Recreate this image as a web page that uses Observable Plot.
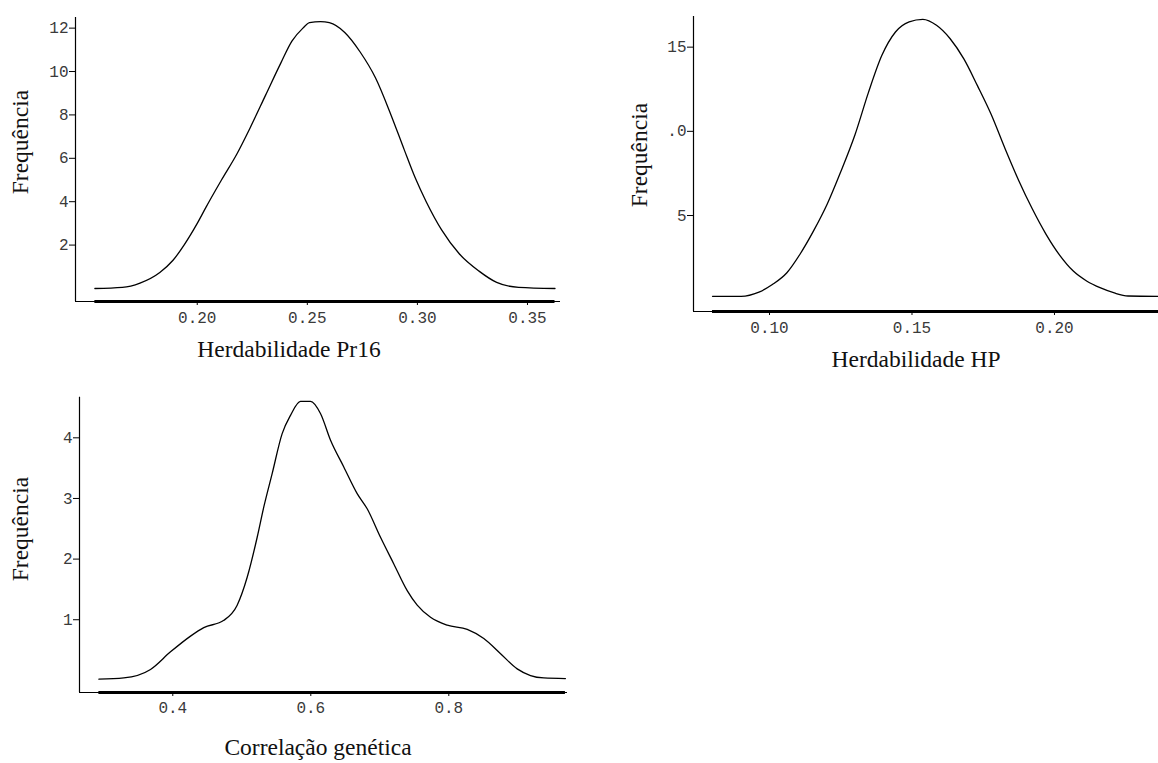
<!DOCTYPE html>
<html>
<head>
<meta charset="utf-8">
<script src="https://cdn.jsdelivr.net/npm/d3@7"></script>
<script src="https://cdn.jsdelivr.net/npm/@observablehq/plot@0.6"></script>
<style>
  html, body { margin: 0; padding: 0; background: #fff; }
  #wrap { position: relative; width: 1158px; height: 763px; overflow: hidden; background: #fff; }
  #wrap svg { position: absolute; }
  .t { position: absolute; font-family: "Liberation Serif", "DejaVu Serif", serif; font-size: 23.5px;
       line-height: 1; color: #111; white-space: nowrap; transform: translate(-50%, -50%); }
  .ty { transform: translate(-50%, -50%) rotate(-90deg); }
</style>
</head>
<body>
<div id="wrap"></div>
<script>
// ---- Panel 1: Herdabilidade Pr16 ----
const pr16X = [0.1535, 0.166, 0.174, 0.183, 0.189, 0.194, 0.200, 0.204, 0.211, 0.218, 0.224, 0.231, 0.238, 0.243, 0.248, 0.251, 0.256, 0.260, 0.267, 0.274, 0.281, 0.288, 0.294, 0.299, 0.304, 0.311, 0.319, 0.328, 0.336, 0.346, 0.3625];
const pr16Y = [0, 0.05, 0.25, 0.74, 1.3, 2.0, 3.0, 3.75, 5.0, 6.2, 7.4, 8.9, 10.4, 11.4, 12.0, 12.25, 12.3, 12.25, 11.8, 10.9, 9.7, 8.0, 6.4, 5.1, 4.0, 2.7, 1.6, 0.8, 0.28, 0.05, 0];
const pr16XTicks = [0.20, 0.25, 0.30, 0.35];
const pr16YTicks = [2, 4, 6, 8, 10, 12];

// ---- Panel 2: Herdabilidade HP ----
const hpX = [0.0800, 0.090, 0.0963, 0.101, 0.1061, 0.1107, 0.1155, 0.1203, 0.125, 0.130, 0.1347, 0.1394, 0.1442, 0.149, 0.1538, 0.1586, 0.1634, 0.1682, 0.173, 0.1778, 0.1826, 0.1874, 0.1922, 0.197, 0.2018, 0.2066, 0.2114, 0.2162, 0.221, 0.2258, 0.2365];
const hpY = [0.2, 0.2, 0.45, 0.9, 1.6, 2.7, 4.1, 5.7, 7.6, 9.8, 12.3, 14.5, 15.9, 16.5, 16.65, 16.3, 15.5, 14.3, 12.7, 11.0, 9.0, 7.1, 5.4, 3.9, 2.65, 1.7, 1.1, 0.7, 0.4, 0.22, 0.2];
const hpXTicks = [0.10, 0.15, 0.20];
const hpYTicks = [5, 10, 15];
const hpYTickLabels = ["5", ".0", "15"];

// ---- Panel 3: Correlação genética ----
const corX = [0.2929, 0.329, 0.3677, 0.3967, 0.4257, 0.4449, 0.474, 0.4933, 0.5078, 0.5223, 0.5319, 0.544, 0.5585, 0.5706, 0.585, 0.5996, 0.614, 0.6286, 0.6478, 0.6672, 0.6817, 0.701, 0.7203, 0.7397, 0.7542, 0.7735, 0.7977, 0.8267, 0.8507, 0.875, 0.8991, 0.9184, 0.9377, 0.969];
const corY = [0.02, 0.04, 0.18, 0.47, 0.73, 0.87, 0.99, 1.24, 1.70, 2.36, 2.86, 3.41, 4.07, 4.37, 4.60, 4.60, 4.40, 3.96, 3.52, 3.08, 2.83, 2.36, 1.92, 1.48, 1.24, 1.04, 0.91, 0.84, 0.69, 0.44, 0.19, 0.08, 0.04, 0.03];
const corXTicks = [0.4, 0.6, 0.8];
const corYTicks = [1, 2, 3, 4];

const panelTitlesX = ["Herdabilidade Pr16", "Herdabilidade HP", "Correlação genética"];
const yTitle = "Frequência";

const wrap = document.getElementById("wrap");

function panel(cfg) {
  const data = cfg.xs.map((x, i) => ({x, y: cfg.ys[i]}));
  const y0 = cfg.yDomain[0], x0 = cfg.xDomain[0];
  const svg = Plot.plot({
    width: cfg.width, height: cfg.height,
    marginLeft: cfg.ml, marginRight: cfg.mr, marginTop: cfg.mt, marginBottom: cfg.mb,
    style: {fontFamily: "'Liberation Mono', 'DejaVu Sans Mono', monospace", fontSize: "16px", background: "transparent", overflow: "visible", color: "#333"},
    x: {domain: cfg.xDomain},
    y: {domain: cfg.yDomain},
    marks: [
      Plot.ruleX([x0], {stroke: "#000", strokeWidth: 1.2}),
      Plot.ruleY([y0], {stroke: "#000", strokeWidth: 1.2}),
      Plot.ruleY([y0], {x1: cfg.xs[0], x2: cfg.xs[cfg.xs.length - 1], stroke: "#000", strokeWidth: 3}),
      Plot.axisX({ticks: cfg.xTicks, tickSize: 4, tickPadding: cfg.xPad, tickFormat: cfg.xFormat, label: null, stroke: "#000", fill: "#3a3a3a"}),
      Plot.axisY({ticks: cfg.yTicks, tickSize: 6, tickPadding: 1, tickFormat: cfg.yFormat, label: null, stroke: "#000", fill: "#3a3a3a"}),
      Plot.line(data, {x: "x", y: "y", curve: "monotone-x", stroke: "#000", strokeWidth: 1.3, clip: true})
    ]
  });
  svg.style.left = cfg.left + "px";
  svg.style.top = cfg.top + "px";
  wrap.appendChild(svg);
}

function label(text, cx, cy, rot) {
  const d = document.createElement("div");
  d.className = rot ? "t ty" : "t";
  d.textContent = text;
  d.style.left = cx + "px";
  d.style.top = cy + "px";
  wrap.appendChild(d);
}

panel({
  left: 0, top: 0, width: 580, height: 380, ml: 75, mr: 20, mt: 17, mb: 79,
  xs: pr16X, ys: pr16Y, xDomain: [0.1447, 0.365], yDomain: [-0.6, 12.49],
  xTicks: pr16XTicks, yTicks: pr16YTicks, xPad: 6,
  xFormat: d3.format(".2f"), yFormat: d => String(d)
});

panel({
  left: 620, top: 0, width: 538, height: 380, ml: 73, mr: 0, mt: 16, mb: 69,
  xs: hpX, ys: hpY, xDomain: [0.07333, 0.2365], yDomain: [-0.70, 16.82],
  xTicks: hpXTicks, yTicks: hpYTicks, xPad: 6,
  xFormat: d3.format(".2f"), yFormat: d => hpYTickLabels[hpYTicks.indexOf(d)]
});

panel({
  left: 0, top: 380, width: 580, height: 383, ml: 79, mr: 13, mt: 16.7, mb: 71,
  xs: corX, ys: corY, xDomain: [0.2648, 0.972], yDomain: [-0.2, 4.67],
  xTicks: corXTicks, yTicks: corYTicks, xPad: 5,
  xFormat: d3.format(".1f"), yFormat: d => String(d)
});

label(panelTitlesX[0], 289, 350, false);
label(panelTitlesX[1], 916, 360, false);
label(panelTitlesX[2], 318, 748, false);
label(yTitle, 21, 142, true);
label(yTitle, 640, 155, true);
label(yTitle, 21, 529, true);
</script>
</body>
</html>
